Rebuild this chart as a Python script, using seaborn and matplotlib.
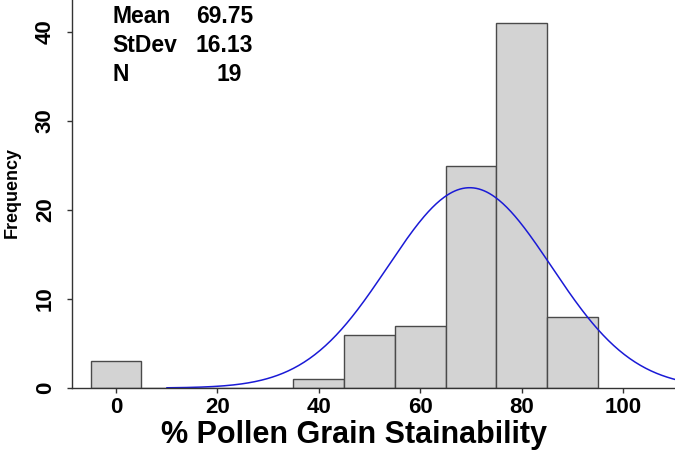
import numpy as np
import pandas as pd
import matplotlib
matplotlib.use("Agg")
import matplotlib.pyplot as plt
import seaborn as sns

# Data
bin_centers = [0, 40, 50, 60, 70, 80, 90]
counts = [3, 1, 6, 7, 25, 41, 8]
bin_edges = [-5, 5, 15, 25, 35, 45, 55, 65, 75, 85, 95]
mean_val = 69.75
sd_val = 16.13
n_label = "19"
x_ticks = [0, 20, 40, 60, 80, 100]
y_ticks = [0, 10, 20, 30, 40]

sns.set_theme(style="white")
plt.rcParams['font.family'] = ['Liberation Sans', 'DejaVu Sans']
plt.rcParams['text.color'] = 'black'

fig = plt.figure(figsize=(6.75, 4.53), dpi=100)
ax = fig.add_axes([72/675, 65/453, 1 - 72/675, 1 - 65/453])

df = pd.DataFrame({"x": bin_centers, "w": counts})
sns.histplot(data=df, x="x", weights="w", bins=bin_edges, ax=ax,
             color="#D3D3D3", edgecolor="#4a4a4a", linewidth=1.0, alpha=1.0)

# Fitted normal curve scaled to counts
total = sum(counts)
bw = 10
xs = np.linspace(10, 115, 400)
ys = total * bw * np.exp(-0.5 * ((xs - mean_val) / sd_val) ** 2) / (sd_val * np.sqrt(2 * np.pi))
sns.lineplot(x=xs, y=ys, ax=ax, color="#1a1ad6", linewidth=1.1)

ax.set_xlim(-8.68, 110.25)
ax.set_ylim(0, 43.6)

for s in ["top", "right"]:
    ax.spines[s].set_visible(False)
for s in ["left", "bottom"]:
    ax.spines[s].set_color("#333333")
    ax.spines[s].set_linewidth(1.0)

ax.set_xticks(x_ticks)
ax.set_yticks(y_ticks)
ax.set_xticklabels([str(t) for t in x_ticks], fontsize=16, fontweight='bold', color='black')
ax.set_yticklabels([str(t) for t in y_ticks], fontsize=16, fontweight='bold',
                   rotation=90, va='center', color='black')
ax.tick_params(axis='both', direction='out', length=3.6, width=1, color="#333333",
               bottom=True, left=True)
ax.tick_params(axis='x', pad=3)
ax.tick_params(axis='y', pad=8)

ax.set_xlabel("% Pollen Grain Stainability", fontsize=22, fontweight='bold', color='black')
ax.xaxis.label.set_va('baseline')
ax.xaxis.set_label_coords((354 - 72) / 603, -(443.5 - 388) / 388)
ax.set_ylabel("")
fig.text(12/675, 1 - 193/453, "Frequency", rotation=90, va='center', ha='center',
         fontsize=13, fontweight='bold', color='black')

# Summary annotation
rows = [("Mean", "69.75", 253), ("StDev", "16.13", 253), ("N", n_label, 242)]
for i, (lab, val, xr) in enumerate(rows):
    yb = 1 - (23 + 29 * i) / 453
    fig.text(112/675, yb, lab, fontsize=16.5, fontweight='bold', ha='left', va='baseline', color='black')
    fig.text(xr/675, yb, val, fontsize=16.5, fontweight='bold', ha='right', va='baseline', color='black')

fig.savefig("out.png", dpi=100)
